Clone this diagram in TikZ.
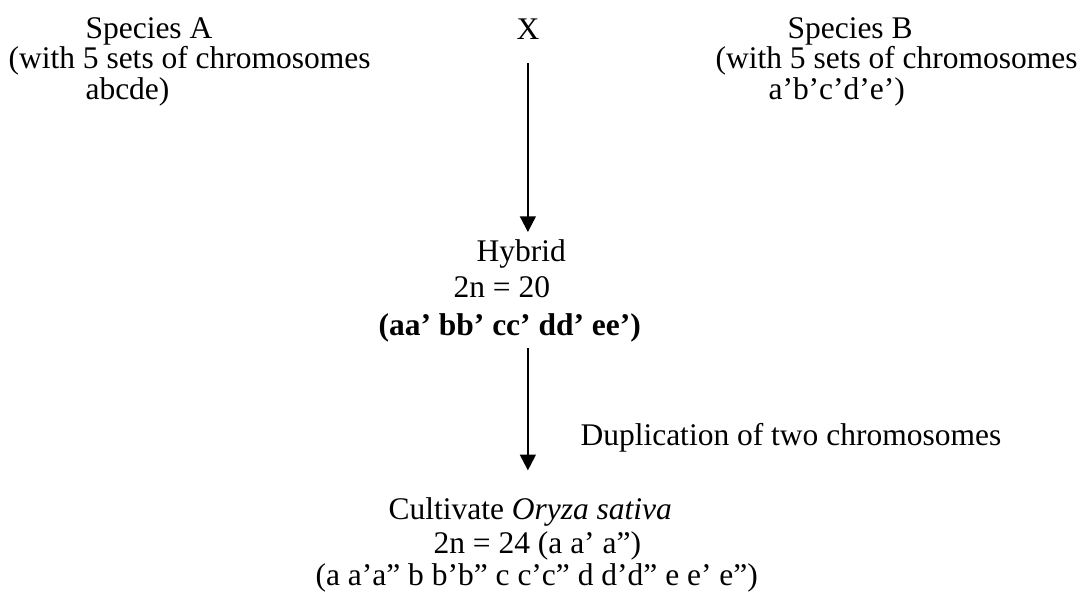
\documentclass[tikz,border=0pt]{standalone}
\usepackage{fontspec}
\setmainfont{Liberation Serif}
\usetikzlibrary{positioning, arrows.meta}
\begin{document}
\begin{tikzpicture}[
    x=0.381pt, y=-0.381pt,
    line/.style={anchor=base west, inner sep=0pt,
                 font=\fontsize{12pt}{14pt}\selectfont},
    arrow/.style={-{Triangle[width=6pt,length=6pt]}, line width=0.8pt}
]
\useasboundingbox (0,0) rectangle (1086,597);
% Parents
\node[line] (spa_1) at (85,38) {Species A};
\node[line] (spa_2) at (8,68) {(with 5 sets of chromosomes};
\node[line] (spa_3) at (85,99) {abcde)};
\node[line] (cross) at (516,39) {X};
\node[line] (spb_1) at (787,38) {Species B};
\node[line] (spb_2) at (715,68) {(with 5 sets of chromosomes};
\node[line] (spb_3) at (768,99) {a’b’c’d’e’)};
% Hybrid
\node[line] (hyb_1) at (476,261) {Hybrid};
\node[line] (hyb_2) at (453,297) {2n = 20};
\node[line, font=\fontsize{12pt}{14pt}\selectfont\bfseries] (hyb_3)
      at (378,335) {(aa’ bb’ cc’ dd’ ee’)};
% Cultivated rice
\node[line] (cul_1) at (388,519) {Cultivate \textit{Oryza sativa}};
\node[line] (cul_2) at (433,553) {2n = 24 (a a’ a”)};
\node[line] (cul_3) at (315,585) {(a a’a” b b’b” c c’c” d d’d” e e’ e”)};
\node[line] (dup) at (580,445) {Duplication of two chromosomes};
\draw[arrow, shorten <=9pt, shorten >=2.5pt]
      (cross.south) -- (cross.south |- hyb_1.north);
\draw[arrow, shorten <=2.3pt, shorten >=10pt]
      (hyb_3.south -| cross.south) -- (cul_1.north -| cross.south);
\end{tikzpicture}
\end{document}
